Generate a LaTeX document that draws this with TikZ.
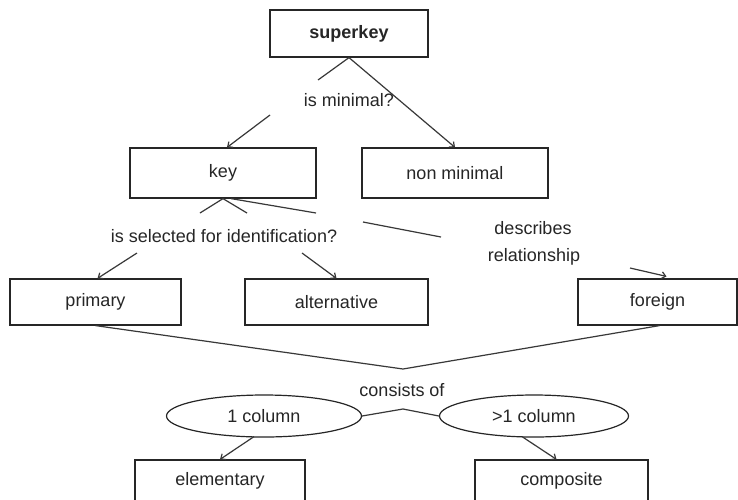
\documentclass[tikz,border=0pt]{standalone}
\usepackage{fontspec}
\setmainfont{Liberation Sans}
\usetikzlibrary{arrows.meta,shapes.geometric,calc}
\begin{document}
\begin{tikzpicture}[x=1pt,y=-1pt,
  every node/.style={font=\fontsize{18}{21}\selectfont, text=black!85},
  box/.style={draw=black!85, line width=1.2pt, rectangle, inner sep=0pt},
  oval/.style={draw=black!85, line width=1.2pt, ellipse, inner sep=0pt},
  conn/.style={draw=black!78, line width=1.2pt},
  arr/.style={conn, -{Straight Barb[length=4pt,width=7pt]}},
  lbl/.style={inner sep=0pt}]
\useasboundingbox (0,0) rectangle (738,499);
\fill[white] (0,0) rectangle (738,499);
% boxes
\node[box, minimum width=158pt, minimum height=47pt] (superkey) at (349,33.5) {\textbf{superkey}};
\node[box, minimum width=186pt, minimum height=50pt] (key) at (223,173) {key};
\node[box, minimum width=186pt, minimum height=50pt] (nonmin) at (455,173) {non minimal};
\node[box, minimum width=171pt, minimum height=46pt] (primary) at (95.5,302) {primary};
\node[box, minimum width=183pt, minimum height=46pt] (alternative) at (336.5,302) {alternative};
\node[box, minimum width=159pt, minimum height=46pt] (foreign) at (657.5,302) {foreign};
\node[box, minimum width=170pt, minimum height=50pt] (elementary) at (220,485) {\raisebox{13pt}{elementary}};
\node[box, minimum width=173pt, minimum height=50pt] (composite) at (561.5,485) {\raisebox{13pt}{composite}};
% ellipses
\node[oval, minimum width=195pt, minimum height=42pt] (col1) at (264,416) {1 column};
\node[oval, minimum width=189pt, minimum height=42pt] (col2) at (534,416) {>1 column};
% labels
\node[lbl] (lmin) at (349,100) {is minimal?};
\node[lbl] (lsel) at (224,236) {is selected for identification?};
\node[lbl] (ldesc) at (533,228) {describes};
\node[lbl] (lrel) at (534,257) {relationship};
\node[lbl] (lcons) at (402,390) {consists of};
% free coordinates
\coordinate (k1) at (318,80);
\coordinate (k2) at (270,115);
\coordinate (a1) at (200,213);
\coordinate (a2) at (247,213);
\coordinate (a3) at (316,213);
\coordinate (a4) at (363,222);
\coordinate (a5) at (441,237);
\coordinate (b1) at (137,253);
\coordinate (b2) at (302,253);
\coordinate (c1) at (630,268);
\coordinate (m1) at (403,369);
\coordinate (m2) at (403,409);
% connectors
\draw[conn] (superkey.south) -- (k1);
\draw[arr] (k2) -- ($(key.north)+(4,0)$);
\draw[arr] (superkey.south) -- (nonmin.north);
\draw[conn] (key.south) -- (a1);
\draw[conn] (key.south) -- (a2);
\draw[conn] ($(key.south)+(8,0)$) -- (a3);
\draw[conn] (a4) -- (a5);
\draw[arr] (b1) -- ($(primary.north)+(2,0)$);
\draw[arr] (b2) -- (alternative.north);
\draw[arr] (c1) -- ($(foreign.north)+(9,-2)$);
\draw[conn] (primary.south) -- (m1) -- ($(foreign.south)+(2,0)$);
\draw[conn] (col1.east) -- (m2) -- (col2.west);
\draw[arr] ($(col1.south)+(-10,-1)$) -- (elementary.north);
\draw[arr] ($(col2.south)+(-12,-1)$) -- ($(composite.north)+(-5,0)$);
\end{tikzpicture}
\end{document}
